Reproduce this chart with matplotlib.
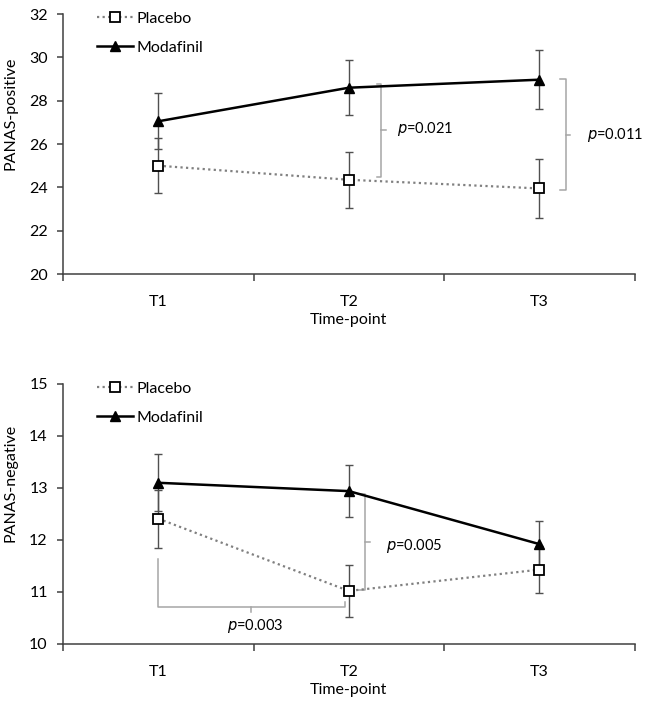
"""
PANAS-positive / PANAS-negative across time-points, placebo vs modafinil.
Two stacked line plots with error bars and p-value brackets.
"""
import matplotlib
matplotlib.use("Agg")
import matplotlib.pyplot as plt

plt.rcParams["font.family"] = ["Lato", "DejaVu Sans"]

# --------- DATA ---------
timepoints = ["T1", "T2", "T3"]
x_pos = [1, 2, 3]

pos_placebo = [25.0, 24.35, 23.95]
pos_placebo_err = [1.28, 1.29, 1.36]
pos_modafinil = [27.05, 28.6, 28.97]
pos_modafinil_err = [1.29, 1.27, 1.35]

neg_placebo = [12.41, 11.02, 11.43]
neg_placebo_err = [0.56, 0.5, 0.45]
neg_modafinil = [13.1, 12.94, 11.92]
neg_modafinil_err = [0.55, 0.5, 0.45]

# brackets: (x_from, x_spine, x_tick, y_top, y_bottom, label, text_x, text_y)
pos_brackets = [
    (2.145, 2.171, 2.197, 28.78, 24.48, "0.021", 2.25, 26.7),
    (3.106, 3.137, 3.158, 29.0, 23.86, "0.011", 3.248, 26.43),
]
neg_vbracket = (2.05, 2.087, 2.11, 12.89, 11.04, "0.005", 2.197, 11.89)
# horizontal bracket under the T1-T2 placebo drop
neg_hbracket = dict(x_left=0.997, x_right=1.979, y_base=10.72, y_left_top=11.64,
                    y_right_top=10.8, x_tick=1.489, y_tick=10.61,
                    label="0.003", text_x=1.51, text_y=10.35)

BRACKET_COLOR = "#a6a6a6"
AXIS_COLOR = "#404040"
FS = 11.5
P_FS = 10.5


def style_axes(ax, ylim, yticks, ylabel):
    ax.set_xlim(0.5, 3.5)
    ax.set_ylim(*ylim)
    ax.set_yticks(yticks)
    ax.set_xticks(x_pos)
    ax.set_xticklabels(timepoints, fontsize=FS)
    ax.set_xticks([0.5, 1.5, 2.5, 3.5], minor=True)
    ax.tick_params(axis="x", which="major", length=0, pad=15)
    ax.tick_params(axis="x", which="minor", length=5, width=1.1, color=AXIS_COLOR,
                   direction="out")
    ax.tick_params(axis="y", length=4, width=1.1, color=AXIS_COLOR, labelsize=FS, pad=7)
    for s in ("top", "right"):
        ax.spines[s].set_visible(False)
    for s in ("left", "bottom"):
        ax.spines[s].set_color(AXIS_COLOR)
        ax.spines[s].set_linewidth(1.1)
    ax.set_ylabel(ylabel, fontsize=FS)
    ax.yaxis.set_label_coords(-0.079, 0.62)
    ax.set_xlabel("Time-point", fontsize=FS)
    ax.xaxis.set_label_coords(0.5, -0.15)


def plot_series(ax, placebo, placebo_err, modafinil, modafinil_err):
    ax.errorbar(x_pos, placebo, yerr=placebo_err, fmt="none", ecolor="#505050",
                elinewidth=1, capsize=3, capthick=1, zorder=2)
    ax.errorbar(x_pos, modafinil, yerr=modafinil_err, fmt="none", ecolor="#505050",
                elinewidth=1, capsize=3, capthick=1, zorder=2)
    ax.plot(x_pos, placebo, linestyle=(0, (1, 1.5)), color="#808080", linewidth=1.6,
            marker="s", markersize=7.5, markerfacecolor="white", markeredgecolor="black",
            markeredgewidth=1.3, label="Placebo", zorder=3)
    ax.plot(x_pos, modafinil, linestyle="-", color="black", linewidth=1.8,
            marker="^", markersize=7.5, markerfacecolor="black", markeredgecolor="black",
            label="Modafinil", zorder=4)
    ax.legend(loc="upper left", bbox_to_anchor=(0.059, 1.01), frameon=False,
              fontsize=FS, handlelength=2.3, handletextpad=0.2, labelspacing=0.95,
              borderpad=0, borderaxespad=0)


def draw_vbracket(ax, b):
    x0, xs, xt, yt, yb, label, tx, ty = b
    ax.plot([x0, xs, xs, x0], [yt, yt, yb, yb], color=BRACKET_COLOR, linewidth=1.1, zorder=1)
    ym = (yt + yb) / 2
    ax.plot([xs, xt], [ym, ym], color=BRACKET_COLOR, linewidth=1.1, zorder=1)
    ax.text(tx, ty, r"$\it{p}$=" + label, fontsize=P_FS, ha="left", va="center")


fig = plt.figure(figsize=(6.52, 7.09), dpi=100)
ax1 = fig.add_axes([0.0966, 0.6135, 0.877, 0.3667])
ax2 = fig.add_axes([0.0966, 0.0917, 0.877, 0.3667])

# top panel
plot_series(ax1, pos_placebo, pos_placebo_err, pos_modafinil, pos_modafinil_err)
style_axes(ax1, (20, 32), range(20, 33, 2), "PANAS-positive")
for b in pos_brackets:
    draw_vbracket(ax1, b)

# bottom panel
plot_series(ax2, neg_placebo, neg_placebo_err, neg_modafinil, neg_modafinil_err)
style_axes(ax2, (10, 15), range(10, 16), "PANAS-negative")
draw_vbracket(ax2, neg_vbracket)
h = neg_hbracket
ax2.plot([h["x_left"], h["x_left"], h["x_right"], h["x_right"]],
         [h["y_left_top"], h["y_base"], h["y_base"], h["y_right_top"]],
         color=BRACKET_COLOR, linewidth=1.1, zorder=1)
ax2.plot([h["x_tick"], h["x_tick"]], [h["y_base"], h["y_tick"]],
         color=BRACKET_COLOR, linewidth=1.1, zorder=1)
ax2.text(h["text_x"], h["text_y"], r"$\it{p}$=" + h["label"], fontsize=P_FS,
         ha="center", va="center")

fig.savefig("out.png", dpi=100)
